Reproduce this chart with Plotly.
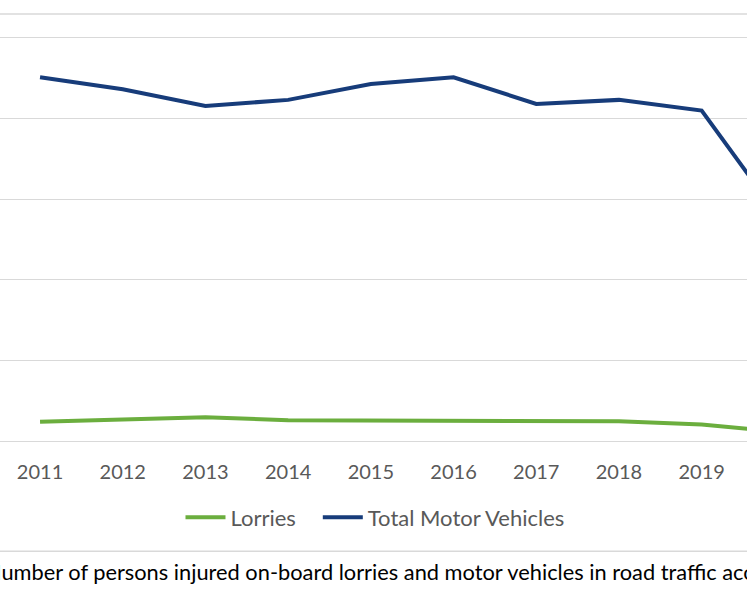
import plotly.graph_objects as go

# values (persons injured)
years = [2011, 2012, 2013, 2014, 2015, 2016, 2017, 2018, 2019, 2020]
lorries = [238, 266, 295, 258, 254, 245, 245, 245, 204, 107]
total_motor = [4513, 4364, 4157, 4232, 4430, 4513, 4182, 4232, 4099, 2690]
tick_years = [2011, 2012, 2013, 2014, 2015, 2016, 2017, 2018, 2019]

caption = "Number of persons injured on-board lorries and motor vehicles in road traffic accidents"

W, H = 747, 598
top_px, base_px = 14, 441.5
plot_h = base_px - top_px
ymax = 1000 * plot_h / 80.7


def py(pix):
    # pixel row -> paper y
    return (base_px - pix) / plot_h


fig = go.Figure()
# non-breaking spaces widen the gap between the two legend entries
fig.add_trace(go.Scatter(x=years, y=lorries, name="Lorries\u00a0\u00a0\u00a0", mode="lines",
                         line=dict(color="#6BAE3E", width=4)))
fig.add_trace(go.Scatter(x=years, y=total_motor, name="Total Motor Vehicles", mode="lines",
                         line=dict(color="#173C7A", width=4)))

fig.update_layout(
    width=W, height=H,
    margin=dict(l=0, r=0, t=top_px, b=H - base_px),
    plot_bgcolor="white", paper_bgcolor="white",
    font=dict(family="Lato", size=20, color="#595959"),
    showlegend=True,
    legend=dict(orientation="h", x=0.502, xanchor="center", y=py(518), yanchor="middle",
                font=dict(size=22, color="#595959"), itemwidth=40, tracegroupgap=0),
    xaxis=dict(range=[2010.516, 2019.548], tickvals=tick_years, showgrid=False,
               zeroline=False, showline=False, ticks="", ticklabelstandoff=17),
    yaxis=dict(range=[0, ymax], dtick=1000, showgrid=True, gridcolor="#D9D9D9",
               gridwidth=1, zeroline=True, zerolinecolor="#D9D9D9", zerolinewidth=1,
               showticklabels=False),
)

# chart border line at top and separator above the caption
for pix in (top_px, 552):
    fig.add_shape(type="line", xref="paper", yref="paper", x0=0, x1=1,
                  y0=py(pix), y1=py(pix), line=dict(color="#D9D9D9", width=1.5))

fig.add_annotation(text=caption, xref="paper", yref="paper", x=-17.5 / W, y=py(572),
                   xanchor="left", yanchor="middle", showarrow=False,
                   font=dict(family="Lato", size=21.8, color="black"))

fig.write_html("out.html", config={"displayModeBar": False},
               post_script="document.body.style.margin='0px';")
